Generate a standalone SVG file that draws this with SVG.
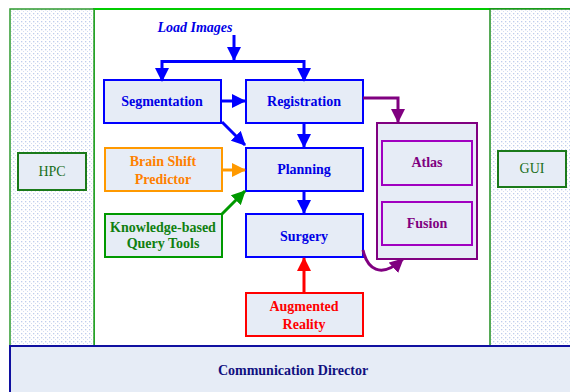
<svg xmlns="http://www.w3.org/2000/svg" width="570" height="392" viewBox="0 0 570 392">
<defs>
<pattern id="dots" x="0" y="0" width="4" height="4" patternUnits="userSpaceOnUse">
<rect width="4" height="4" fill="#ffffff"/>
<rect x="1" y="1" width="1.3" height="1.3" fill="#bfcdec"/>
<rect x="3" y="3" width="1.3" height="1.3" fill="#d3ddf2"/>
</pattern>
<marker id="ab" viewBox="0 0 14 14" markerWidth="14" markerHeight="14" markerUnits="userSpaceOnUse" refX="13" refY="7" orient="auto"><path d="M0,0 L14,7 L0,14 z" fill="#0000ff"/></marker>
<marker id="ao" viewBox="0 0 14 14" markerWidth="14" markerHeight="14" markerUnits="userSpaceOnUse" refX="13" refY="7" orient="auto"><path d="M0,0 L14,7 L0,14 z" fill="#ff9900"/></marker>
<marker id="ag" viewBox="0 0 14 14" markerWidth="14" markerHeight="14" markerUnits="userSpaceOnUse" refX="13" refY="7" orient="auto"><path d="M0,0 L14,7 L0,14 z" fill="#009900"/></marker>
<marker id="ar" viewBox="0 0 14 14" markerWidth="14" markerHeight="14" markerUnits="userSpaceOnUse" refX="13" refY="7" orient="auto"><path d="M0,0 L14,7 L0,14 z" fill="#ff0000"/></marker>
<marker id="ap" viewBox="0 0 14 14" markerWidth="14" markerHeight="14" markerUnits="userSpaceOnUse" refX="13" refY="7" orient="auto"><path d="M0,0 L14,7 L0,14 z" fill="#800080"/></marker>
</defs>
<style>
text{font-family:"Liberation Serif","Times New Roman",serif;font-size:14px;text-anchor:middle;}
.b{font-weight:bold;}
.box{fill:#e6ecf6;stroke-width:2;}
.blue{stroke:#0000ff;}
.tb{fill:#0000e6;}
.ln{fill:none;stroke-width:3;}
</style>
<rect x="0" y="0" width="570" height="392" fill="#ffffff"/>
<g id="panels">
<rect x="94" y="9" width="490" height="337" fill="#ffffff" stroke="#00cc00" stroke-width="2"/>
<rect x="10" y="9" width="84" height="337" fill="url(#dots)" stroke="#2f9a2f" stroke-width="1.5"/>
<rect x="490" y="9" width="100" height="337" fill="url(#dots)" stroke="#1f8f1f" stroke-width="1.5"/>
</g>
<g id="hpc"><rect x="18" y="153" width="68" height="37" class="box" stroke="#1a7a1a"/><text x="52" y="176" fill="#1a6e1a">HPC</text></g>
<g id="gui"><rect x="498" y="151" width="68" height="36" class="box" stroke="#1a7a1a"/><text x="532" y="173" fill="#1a6e1a">GUI</text></g>
<g id="comm"><rect x="10" y="346" width="580" height="60" fill="#e6ecf6" stroke="#1010a0" stroke-width="2"/><text x="293" y="375" class="b" fill="#101080">Communication Director</text></g>
<g id="loadimages"><text x="195" y="32" class="b" font-style="italic" fill="#0000e6">Load Images</text></g>
<g id="segmentation"><rect x="104" y="80" width="117" height="43" class="box blue"/><text x="162" y="106" class="b tb">Segmentation</text></g>
<g id="registration"><rect x="246" y="80" width="117" height="43" class="box blue"/><text x="304" y="106" class="b tb">Registration</text></g>
<g id="planning"><rect x="246" y="148" width="117" height="43" class="box blue"/><text x="304" y="174" class="b tb">Planning</text></g>
<g id="surgery"><rect x="246" y="214" width="117" height="43" class="box blue"/><text x="304" y="241" class="b tb">Surgery</text></g>
<g id="brainshift"><rect x="105" y="148" width="117" height="43" class="box" stroke="#ff9900"/><text x="163" y="166" class="b" fill="#ff8000">Brain Shift</text><text x="163" y="184" class="b" fill="#ff8000">Predictor</text></g>
<g id="knowledge"><rect x="105" y="214" width="117" height="43" class="box" stroke="#009900"/><text x="163" y="232" class="b" fill="#108010">Knowledge-based</text><text x="163" y="248" class="b" fill="#108010">Query Tools</text></g>
<g id="augmented"><rect x="246" y="293" width="117" height="43" class="box" stroke="#ff0000"/><text x="304" y="311" class="b" fill="#ff0000">Augmented</text><text x="304" y="329" class="b" fill="#ff0000">Reality</text></g>
<g id="container"><rect x="377" y="123" width="100" height="136" class="box" stroke="#800080"/></g>
<g id="atlas"><rect x="382" y="141" width="90" height="44" class="box" stroke="#a000c0"/><text x="427" y="167" class="b" fill="#800080">Atlas</text></g>
<g id="fusion"><rect x="382" y="202" width="90" height="43" class="box" stroke="#a000c0"/><text x="427" y="228" class="b" fill="#800080">Fusion</text></g>
<g id="connectors">
<path d="M234,35 V60" class="ln" stroke="#0000ff" marker-end="url(#ab)"/>
<path d="M162,81 V61.5 H304 V81" class="ln" stroke="#0000ff"/>
<path d="M162,70 V81" class="ln" stroke="#0000ff" marker-end="url(#ab)"/>
<path d="M304,70 V81" class="ln" stroke="#0000ff" marker-end="url(#ab)"/>
<path d="M221,101 H245" class="ln" stroke="#0000ff" marker-end="url(#ab)"/>
<path d="M222,122 L245,145" class="ln" stroke="#0000ff" marker-end="url(#ab)"/>
<path d="M304,123 V147" class="ln" stroke="#0000ff" marker-end="url(#ab)"/>
<path d="M304,191 V213" class="ln" stroke="#0000ff" marker-end="url(#ab)"/>
<path d="M222,170 H245" class="ln" stroke="#ff9900" marker-end="url(#ao)"/>
<path d="M222,214 L245,191" class="ln" stroke="#009900" marker-end="url(#ag)"/>
<path d="M304,293 V258" class="ln" stroke="#ff0000" marker-end="url(#ar)"/>
<path d="M363,98 H398 V122" class="ln" stroke="#800080" marker-end="url(#ap)"/>
<path d="M363,250 C367,268 380,280 403,259" class="ln" stroke="#800080" marker-end="url(#ap)"/>
</g>
</svg>
